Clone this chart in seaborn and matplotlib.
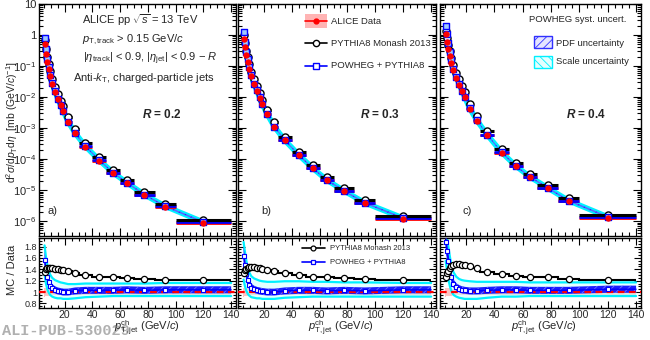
import numpy as np
import matplotlib
matplotlib.use("Agg")
import matplotlib.pyplot as plt
from matplotlib.ticker import MultipleLocator, LogLocator, FuncFormatter, NullFormatter
from matplotlib.patches import Rectangle
from matplotlib.lines import Line2D
import seaborn as sns

# ---------------- data ----------------
bin_edges = [5, 6, 7, 8, 9, 10, 12, 14, 16, 18, 20, 25, 30, 40, 50, 60, 70, 85, 100, 140]
radii = ["0.2", "0.3", "0.4"]
panel_tags = ["a)", "b)", "c)"]

# ALICE data cross sections  [mb (GeV/c)^-1]
data_R02 = [0.50, 0.25, 0.135, 0.080, 0.048, 0.026, 0.0150, 0.0088, 0.0055, 0.0036,
            1.6e-3, 6.8e-4, 2.5e-4, 8.9e-5, 3.5e-5, 1.65e-5, 6.9e-6, 2.9e-6, 8.9e-7]
data_R03 = [0.75, 0.40, 0.22, 0.135, 0.083, 0.046, 0.026, 0.0158, 0.0096, 0.0058,
            2.8e-3, 1.12e-3, 4.0e-4, 1.33e-4, 5.0e-5, 2.1e-5, 9.2e-6, 3.8e-6, 1.2e-6]
data_R04 = [1.04, 0.61, 0.35, 0.21, 0.125, 0.072, 0.041, 0.025, 0.0155, 0.0098,
            4.2e-3, 1.75e-3, 5.8e-4, 1.6e-4, 5.8e-5, 2.6e-5, 1.15e-5, 4.4e-6, 1.3e-6]

# PYTHIA8 Monash 2013 / Data
pyth_R02 = [1.36, 1.40, 1.42, 1.42, 1.42, 1.42, 1.41, 1.40, 1.39, 1.38,
            1.37, 1.34, 1.30, 1.27, 1.26, 1.24, 1.23, 1.22, 1.21]
pyth_R03 = [1.33, 1.38, 1.41, 1.43, 1.44, 1.44, 1.44, 1.43, 1.42, 1.41,
            1.39, 1.37, 1.33, 1.30, 1.27, 1.26, 1.24, 1.23, 1.22]
pyth_R04 = [1.27, 1.33, 1.37, 1.42, 1.46, 1.48, 1.49, 1.49, 1.48, 1.47,
            1.45, 1.42, 1.36, 1.31, 1.29, 1.27, 1.26, 1.23, 1.22]

# POWHEG + PYTHIA8 / Data
powh_R02 = [1.57, 1.38, 1.26, 1.17, 1.11, 1.07, 1.04, 1.02, 1.01, 1.00,
            1.00, 1.02, 1.03, 1.03, 1.03, 1.04, 1.03, 1.04, 1.04]
powh_R03 = [1.64, 1.48, 1.32, 1.21, 1.13, 1.08, 1.05, 1.03, 1.02, 1.01,
            1.00, 1.00, 1.02, 1.03, 1.03, 1.02, 1.03, 1.02, 1.04]
powh_R04 = [1.88, 1.73, 1.55, 1.40, 1.27, 1.15, 1.09, 1.06, 1.04, 1.03,
            1.02, 1.02, 1.03, 1.04, 1.04, 1.03, 1.03, 1.03, 1.05]

# POWHEG scale-uncertainty band edges (ratio to data)
scale_hi_R02 = [1.82, 1.62, 1.48, 1.38, 1.31, 1.25, 1.21, 1.19, 1.17, 1.16,
                1.14, 1.14, 1.15, 1.15, 1.15, 1.15, 1.15, 1.16, 1.16]
scale_lo_R02 = [1.32, 1.15, 1.05, 0.99, 0.95, 0.92, 0.90, 0.89, 0.89, 0.88,
                0.88, 0.89, 0.91, 0.92, 0.93, 0.93, 0.93, 0.93, 0.93]
scale_hi_R03 = [1.88, 1.70, 1.55, 1.43, 1.35, 1.28, 1.24, 1.22, 1.20, 1.19,
                1.18, 1.18, 1.19, 1.19, 1.18, 1.18, 1.17, 1.17, 1.16]
scale_lo_R03 = [1.22, 1.10, 1.02, 0.97, 0.94, 0.91, 0.90, 0.89, 0.89, 0.88,
                0.88, 0.88, 0.90, 0.91, 0.92, 0.92, 0.92, 0.92, 0.92]
scale_hi_R04 = [2.10, 1.95, 1.78, 1.62, 1.48, 1.35, 1.27, 1.23, 1.21, 1.20,
                1.19, 1.18, 1.18, 1.18, 1.18, 1.17, 1.17, 1.17, 1.17]
scale_lo_R04 = [1.55, 1.38, 1.22, 1.10, 1.02, 0.95, 0.92, 0.90, 0.89, 0.88,
                0.88, 0.88, 0.90, 0.92, 0.92, 0.93, 0.93, 0.93, 0.93]

# relative uncertainties
pdf_rel = [0.10, 0.09, 0.08, 0.07, 0.07, 0.065, 0.06, 0.06, 0.06, 0.06,
           0.06, 0.06, 0.06, 0.06, 0.06, 0.06, 0.06, 0.06, 0.06]
data_sys_rel = [0.08, 0.07, 0.07, 0.07, 0.07, 0.06, 0.06, 0.06, 0.06, 0.06,
                0.06, 0.06, 0.06, 0.06, 0.06, 0.06, 0.06, 0.06, 0.06]

data_all = [data_R02, data_R03, data_R04]
pyth_all = [pyth_R02, pyth_R03, pyth_R04]
powh_all = [powh_R02, powh_R03, powh_R04]
shi_all = [scale_hi_R02, scale_hi_R03, scale_hi_R04]
slo_all = [scale_lo_R02, scale_lo_R03, scale_lo_R04]

# ---------------- style ----------------
sns.set_theme(style="ticks")
plt.rcParams['font.family'] = ['Liberation Sans', 'DejaVu Sans']
plt.rcParams['mathtext.fontset'] = 'custom'
plt.rcParams['mathtext.rm'] = 'Liberation Sans'
plt.rcParams['mathtext.it'] = 'Liberation Sans:italic'
plt.rcParams['mathtext.bf'] = 'Liberation Sans:bold'
plt.rcParams['mathtext.bfit'] = 'Liberation Sans:italic:bold'
plt.rcParams['axes.linewidth'] = 1.0
plt.rcParams['hatch.linewidth'] = 0.6

W, H = 650, 340
fig = plt.figure(figsize=(W / 100, H / 100), dpi=100)

def px_axes(l, t, r, b):
    return fig.add_axes([l / W, 1 - b / H, (r - l) / W, (b - t) / H])

def ftext(x, y, s, **kw):
    kw.setdefault('va', 'center')
    kw.setdefault('ha', 'left')
    kw.setdefault('fontsize', 8.5)
    return fig.text(x / W, 1 - y / H, s, **kw)

def fline(x0, x1, y, **kw):
    fig.add_artist(Line2D([x0 / W, x1 / W], [1 - y / H, 1 - y / H], transform=fig.transFigure, **kw))

def fmark(x, y, **kw):
    fig.add_artist(Line2D([x / W], [1 - y / H], transform=fig.transFigure, ls='none', **kw))

panel_x = [(39, 236), (238, 436), (440, 641)]
TOP_T, TOP_B = 4, 236
RAT_T, RAT_B = 238, 308
XLIM = (1.5, 143.5)

edges = np.array(bin_edges, float)
centers = 0.5 * (edges[:-1] + edges[1:])
xerr = [centers - edges[:-1], edges[1:] - centers]
band_x = np.append(centers, edges[-1])

def ext(a):
    a = np.asarray(a, float)
    return np.append(a, a[-1])

def log_fmt(v, pos):
    e = int(round(np.log10(v)))
    if e == 1:
        return "10"
    if e == 0:
        return "1"
    return r"$10^{%d}$" % e

BLUE = '#0000ff'
CYAN = '#00f0ff'

for i in range(3):
    l, r = panel_x[i]
    d = np.array(data_all[i])
    rp = np.array(pyth_all[i])
    rw = np.array(powh_all[i])
    shi = np.array(shi_all[i])
    slo = np.array(slo_all[i])
    pdf = np.array(pdf_rel)
    sysd = np.array(data_sys_rel)
    pyv = d * rp
    pwv = d * rw

    # ---------- top: spectra ----------
    ax = px_axes(l, TOP_T, r, TOP_B)
    ax.set_yscale('log')
    ax.fill_between(centers, d * slo, d * shi, color=CYAN, alpha=0.6, lw=0, zorder=1)
    sns.lineplot(x=centers, y=pwv, ax=ax, color=CYAN, lw=4.0, zorder=1.5)
    ax.fill_between(centers, pwv * (1 - pdf), pwv * (1 + pdf), facecolor='#6060ff',
                    edgecolor='#2020ff', hatch='////', lw=0, zorder=1.6)
    ax.bar(edges[:-1], d * 2 * sysd, bottom=d * (1 - sysd), width=np.diff(edges),
           align='edge', color='#ff9a9a', alpha=0.75, lw=0, zorder=2)
    ax.errorbar(centers, d, xerr=xerr, fmt='none', ecolor='red', elinewidth=2.0, zorder=3)
    ax.errorbar(centers, pwv, xerr=xerr, fmt='none', ecolor=BLUE, elinewidth=2.0, zorder=4)
    ax.errorbar(centers, pyv, xerr=xerr, fmt='none', ecolor='black', elinewidth=2.2, zorder=5)
    sns.scatterplot(x=centers, y=pyv, ax=ax, marker='o', s=26, facecolor='white',
                    edgecolor='black', linewidth=1.0, zorder=6)
    sns.scatterplot(x=centers, y=pwv, ax=ax, marker='s', s=24, facecolor='#a0c8ff',
                    edgecolor=BLUE, linewidth=1.0, zorder=7)
    sns.scatterplot(x=centers, y=d, ax=ax, marker='o', s=16, color='red',
                    edgecolor='red', linewidth=0.5, zorder=8)
    ax.set_xlim(*XLIM)
    ax.set_ylim(10 ** -6.48, 10)
    ax.xaxis.set_major_locator(MultipleLocator(20))
    ax.xaxis.set_minor_locator(MultipleLocator(5))
    ax.yaxis.set_major_locator(LogLocator(base=10, numticks=20))
    ax.yaxis.set_minor_locator(LogLocator(base=10, subs=np.arange(2, 10), numticks=20))
    ax.yaxis.set_major_formatter(FuncFormatter(log_fmt))
    ax.yaxis.set_minor_formatter(NullFormatter())
    ax.tick_params(which='both', direction='in', top=True, right=True, labelbottom=False,
                   labelleft=(i == 0), labelsize=8, pad=2, width=0.8, color='black')
    ax.tick_params(which='major', length=6)
    ax.tick_params(which='minor', length=3)
    ax.set_xlabel('')
    ax.set_ylabel('')
    for s in ax.spines.values():
        s.set_color('black')
        s.set_linewidth(1.0)

    # ---------- bottom: ratios ----------
    ra = px_axes(l, RAT_T, r, RAT_B)
    ra.fill_between(edges, ext(1 - sysd), ext(1 + sysd), step='post', color='#ffc4c4', lw=0, zorder=1)
    ra.fill_between(band_x, ext(slo), ext(shi), color='#c8ffff', alpha=0.5, lw=0, zorder=2)
    sns.lineplot(x=band_x, y=ext(shi), ax=ra, color=CYAN, lw=1.6, zorder=2.5)
    sns.lineplot(x=band_x, y=ext(slo), ax=ra, color=CYAN, lw=1.6, zorder=2.5)
    ra.fill_between(band_x, ext(rw * (1 - pdf)), ext(rw * (1 + pdf)), facecolor='#1c1cff',
                    edgecolor='#7070ff', hatch='////', lw=0, zorder=3)
    ra.axhline(1.0, color='red', ls=(0, (3, 2)), lw=1.6, zorder=4)
    sns.lineplot(x=band_x, y=ext(rw), ax=ra, color=BLUE, lw=1.0, zorder=4.5)
    ra.stairs(rp, edges, baseline=None, color='black', lw=1.5, zorder=5)
    sns.scatterplot(x=centers, y=rw, ax=ra, marker='s', s=10, facecolor='white',
                    edgecolor=BLUE, linewidth=0.8, zorder=6)
    sns.scatterplot(x=centers, y=rp, ax=ra, marker='o', s=20, facecolor='white',
                    edgecolor='black', linewidth=0.9, zorder=7)
    ra.set_xlim(*XLIM)
    ra.set_ylim(0.72, 1.95)
    ra.xaxis.set_major_locator(MultipleLocator(20))
    ra.xaxis.set_minor_locator(MultipleLocator(5))
    ra.yaxis.set_major_locator(MultipleLocator(0.2))
    ra.yaxis.set_minor_locator(MultipleLocator(0.05))
    ra.yaxis.set_major_formatter(FuncFormatter(lambda v, p: "%g" % round(v, 2)))
    ra.tick_params(axis='x', which='both', labelsize=7.5)
    ra.tick_params(axis='y', which='both', labelsize=6.5)
    ra.tick_params(which='both', direction='in', top=True, right=True,
                   labelleft=(i == 0), pad=1.5, width=0.8, color='black')
    ra.tick_params(which='major', length=5)
    ra.tick_params(which='minor', length=2.5)
    ra.set_xlabel('')
    ra.set_ylabel('')
    for s in ra.spines.values():
        s.set_color('black')
        s.set_linewidth(1.0)

# ---------------- texts ----------------
ftext(140, 20, r"ALICE pp $\sqrt{s}$ = 13 TeV", ha='center', fontsize=8)
ftext(133, 40, r"$p_{\rm T,track}$ > 0.15 GeV/$c$", ha='center', fontsize=8)
ftext(150, 59, r"|$\eta_{\rm track}$| < 0.9, |$\eta_{\rm jet}$| < 0.9 $-$ $R$", ha='center', fontsize=8)
ftext(144, 78, r"Anti-$k_{\rm T}$, charged-particle jets", ha='center', fontsize=8)

for xc, rr in zip([162, 380, 586], radii):
    ftext(xc, 115, r"$\mathbfit{R}$ = " + rr, ha='center', fontsize=8.5, fontweight='bold')
for xx, tag in zip([47, 261, 462], panel_tags):
    ftext(xx, 211, tag, fontsize=8)

# legend (panel b)
fig.add_artist(Rectangle((305 / W, 1 - 28 / H), 22 / W, 14 / H, transform=fig.transFigure,
                         facecolor='#ffb4b4', edgecolor='none'))
fline(305, 327, 21, color='red', lw=1.2)
fmark(316, 21, marker='o', ms=3.5, color='red')
ftext(331, 21, "ALICE Data", fontsize=6.8)
fline(305, 327, 43, color='black', lw=1.2)
fmark(316, 43, marker='o', ms=4.5, mfc='white', mec='black', mew=1.0)
ftext(331, 43, "PYTHIA8 Monash 2013", fontsize=6.8)
fline(305, 327, 66, color=BLUE, lw=1.2)
fmark(316, 66, marker='s', ms=4.5, mfc='white', mec=BLUE, mew=1.0)
ftext(331, 66, "POWHEG + PYTHIA8", fontsize=6.8)

# legend (panel c)
ftext(578, 19, "POWHEG syst. uncert.", ha='center', fontsize=6.8)
fig.add_artist(Rectangle((534 / W, 1 - 48 / H), 18 / W, 12 / H, transform=fig.transFigure,
                         facecolor='#e4e4ff', edgecolor='#3030ff', hatch='////', lw=1.0))
ftext(556, 43, "PDF uncertainty", fontsize=6.8)
fig.add_artist(Rectangle((534 / W, 1 - 68 / H), 18 / W, 12 / H, transform=fig.transFigure,
                         facecolor='#e4ffff', edgecolor='#00f0ff', hatch='\\\\\\\\', lw=1.0))
ftext(556, 62, "Scale uncertainty", fontsize=6.8)

# ratio legend (panel b)
fline(302, 325, 248, color='black', lw=1.2)
fmark(313, 248, marker='o', ms=3.5, mfc='white', mec='black', mew=0.9)
ftext(330, 248, "PYTHIA8 Monash 2013", fontsize=5.5)
fline(302, 325, 262, color=BLUE, lw=1.2)
fmark(313, 262, marker='s', ms=3.5, mfc='white', mec=BLUE, mew=0.9)
ftext(330, 262, "POWHEG + PYTHIA8", fontsize=5.5)

# axis titles
ftext(12, 122, r"d$^{2}\sigma$/d$p_{\rm T}$d$\eta$  [mb (GeV/$c$)$^{-1}$]", ha='center',
      rotation=90, fontsize=7.5)
ftext(12, 270, "MC / Data", ha='center', rotation=90, fontsize=8)
for xc in [147, 341, 544]:
    ftext(xc, 328, r"$p_{\rm T,jet}^{\rm ch}$ (GeV/$c$)", ha='center', fontsize=8)

# watermark
ftext(2, 331, "ALI-PUB-530029", fontsize=11, family='Liberation Mono', fontweight='bold',
      color='#b0b0b0', zorder=-1)

fig.savefig("out.png", dpi=100)
